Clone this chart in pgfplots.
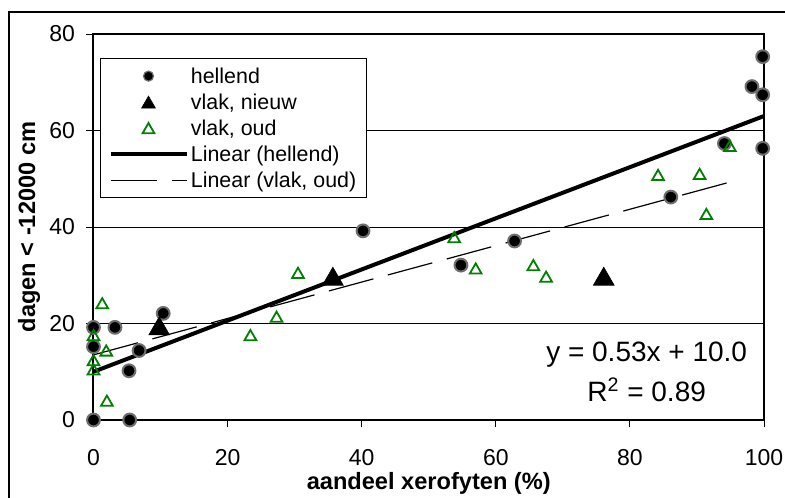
\documentclass[border=0pt]{standalone}
\usepackage{fontspec}
\setmainfont{Liberation Sans}
\usepackage{pgfplots}
\pgfplotsset{compat=1.18}
\definecolor{xlgreen}{RGB}{0,128,0}
\definecolor{ringgray}{RGB}{110,110,110}
\begin{document}
\begin{tikzpicture}
\useasboundingbox (-46.75pt,-38.5pt) rectangle (345.75pt,210pt);
\draw[line width=0.6pt] (-42.25pt,-40pt) -- (-42.25pt,204pt) -- (347pt,204pt);
\begin{axis}[
  at={(0pt,0pt)}, anchor=south west,
  scale only axis, width=335.25pt, height=193pt,
  xmin=0, xmax=100, ymin=0, ymax=80,
  clip=false,
  axis line style={line width=1pt},
  xtick={0,20,...,100}, ytick={0,20,...,80},
  xtick pos=left, ytick pos=left,
  tick align=outside, major tick length=3.7pt,
  tick style={black, line width=0.5pt},
  ymajorgrids, grid style={black, line width=0.5pt},
  /pgf/number format/assume math mode=true,
  tick label style={font=\fontsize{11.5}{13}\selectfont},
  xticklabel style={yshift=-7.5pt},
  yticklabel style={xshift=-2pt},
  xlabel={aandeel xerofyten (\%)},
  ylabel={dagen < -12000 cm},
  label style={font=\bfseries\fontsize{11.8}{14}\selectfont},
  xlabel style={at={(axis description cs:0.5,-0.1632)}, anchor=center},
  ylabel style={at={(axis description cs:-0.0962,0.5)}, anchor=center},
  legend cell align=left,
  legend style={at={(axis description cs:0.0097,0.9378)}, anchor=north west,
    draw=black, line width=0.5pt, fill=white,
    font=\fontsize{10.7}{12}\selectfont,
    inner xsep=4pt, inner ysep=2.3pt, row sep=0pt,
    nodes={inner xsep=1.2pt, inner ysep=0pt, text height=10pt, text depth=3pt}},
  legend image code/.code={\draw[mark repeat=2,mark phase=2,#1] plot coordinates {(0pt,0pt) (19pt,0pt) (38pt,0pt)};},
]
% hellend
\addplot[only marks, mark=*, mark size=3.2pt,
  mark options={fill=black, draw=ringgray, line width=1pt},
  legend image post style={mark size=2.5pt, mark options={fill=black, draw=ringgray, line width=0.6pt}}]
  coordinates {
  (0,0) (5.4,0) (0,15.2) (0,19.2) (3.2,19.2) (5.3,10.2) (6.8,14.4) (10.4,22.1)
  (40.2,39.2) (54.8,32.1) (62.8,37.1) (86.1,46.2) (94.1,57.3) (98.2,69.1)
  (99.8,75.3) (99.8,67.4) (99.8,56.3)};
\addlegendentry{hellend}
% vlak, nieuw
\addplot[only marks, mark=triangle*, mark size=6pt,
  mark options={fill=black, draw=black, line width=0.3pt, yshift=-1.5pt},
  legend image post style={mark size=4pt, mark options={fill=black, draw=black, line width=0.3pt, yshift=-1pt}}]
  coordinates {(9.8,19.5) (35.7,29.8) (76.1,29.8)};
\addlegendentry{vlak, nieuw}
% vlak, oud
\addplot[only marks, mark=triangle, mark size=3.4pt,
  mark options={draw=xlgreen, line width=0.9pt, yshift=-0.85pt}]
  coordinates {
  (1.3,24.2) (0,17.6) (1.9,14.4) (0,12.4) (0,10.5) (2.0,4.0) (23.4,17.6)
  (27.3,21.4) (30.5,30.5) (53.8,37.9) (57.0,31.4) (65.6,32.1) (67.5,29.7)
  (84.2,50.8) (90.4,51.0) (91.4,42.7) (94.9,56.8)};
\addlegendentry{vlak, oud}
% trend lines
\addplot[black, line width=2pt, no marks] coordinates {(0,10.0) (100,63.0)};
\addlegendentry{Linear (hellend)}
\addplot[black, line width=0.6pt, no marks, dash pattern=on 23pt off 7.5pt]
  coordinates {(0,13.5) (94.9,49.3)};
\addlegendentry{Linear (vlak, oud)}
\node[anchor=base, font=\fontsize{14}{16}\selectfont, inner sep=0pt] at (axis cs:82.5,12.08) {y = 0.53x + 10.0};
\node[anchor=base, font=\fontsize{14}{16}\selectfont, inner sep=0pt] at (axis cs:82.5,3.79) {R\textsuperscript{2} = 0.89};
\end{axis}
\end{tikzpicture}
\end{document}
